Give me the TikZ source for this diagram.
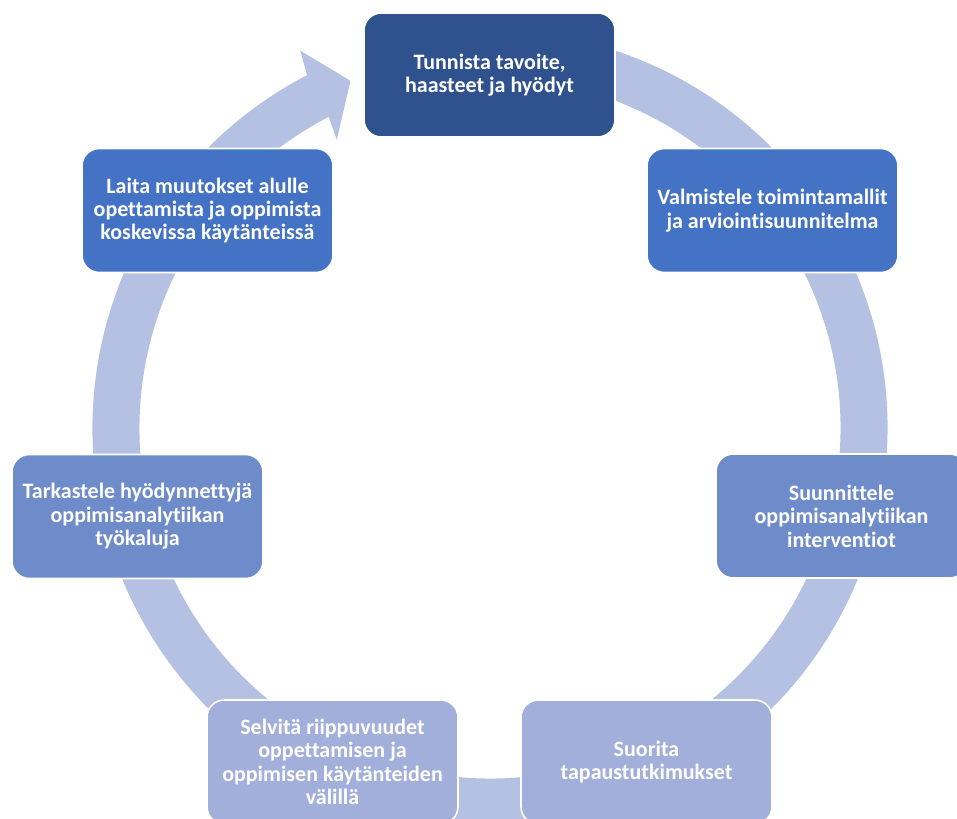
\documentclass[tikz,border=0pt]{standalone}
\usepackage{fontspec}
\setmainfont[Ligatures=NoCommon]{Carlito}
\definecolor{cDark}{HTML}{2F528F}
\definecolor{cMid}{HTML}{4472C4}
\definecolor{cLight}{HTML}{6F8CCA}
\definecolor{cPale}{HTML}{A1AFDA}
\definecolor{cRing}{HTML}{B5C1E2}
\tikzset{
  cyclebox/.style={draw=white, line width=1.2pt, rounded corners=13pt,
    minimum width=251*0.75pt, minimum height=124*0.75pt, inner sep=0pt,
    align=center, text=white, font=\fontsize{16.5}{17.6}\selectfont\bfseries},
}
\begin{document}
\begin{tikzpicture}[x=0.75pt, y=0.75pt]
\useasboundingbox (0,0) rectangle (957,818);
\clip (0,0) rectangle (957,818);
% ring with arrowhead
\begin{scope}[shift={(490,390)}]
\fill[cRing] (80:397.5) arc[start angle=80, end angle=-242.6, radius=397.5]
  -- (-243.3:422.4) -- (-248.1:374.2) -- (-242.0:326.3)
  -- (-242.6:350.5) arc[start angle=-242.6, end angle=80, radius=350.5] -- cycle;
\end{scope}
% boxes
\node[cyclebox, fill=cDark]  (b1) at (489.5,743)   {Tunnista tavoite,\\haasteet ja hyödyt};
\node[cyclebox, fill=cMid]   (b2) at (772.5,607.5) {Valmistele toimintamallit\\ja arviointisuunnitelma};
\node[cyclebox, fill=cLight] (b3) at (841.5,302)   {Suunnittele\\oppimisanalytiikan\\interventiot};
\node[cyclebox, fill=cPale]  (b4) at (646.5,56)    {Suorita\\tapaustutkimukset};
\node[cyclebox, fill=cPale]  (b5) at (332.5,56)    {Selvitä riippuvuudet\\oppettamisen ja\\oppimisen käytänteiden\\välillä};
\node[cyclebox, fill=cLight] (b6) at (137.5,301.5) {Tarkastele hyödynnettyjä\\oppimisanalytiikan\\työkaluja};
\node[cyclebox, fill=cMid]   (b7) at (207.5,607.5) {Laita muutokset alulle\\opettamista ja oppimista\\koskevissa käytänteissä};
\end{tikzpicture}
\end{document}
